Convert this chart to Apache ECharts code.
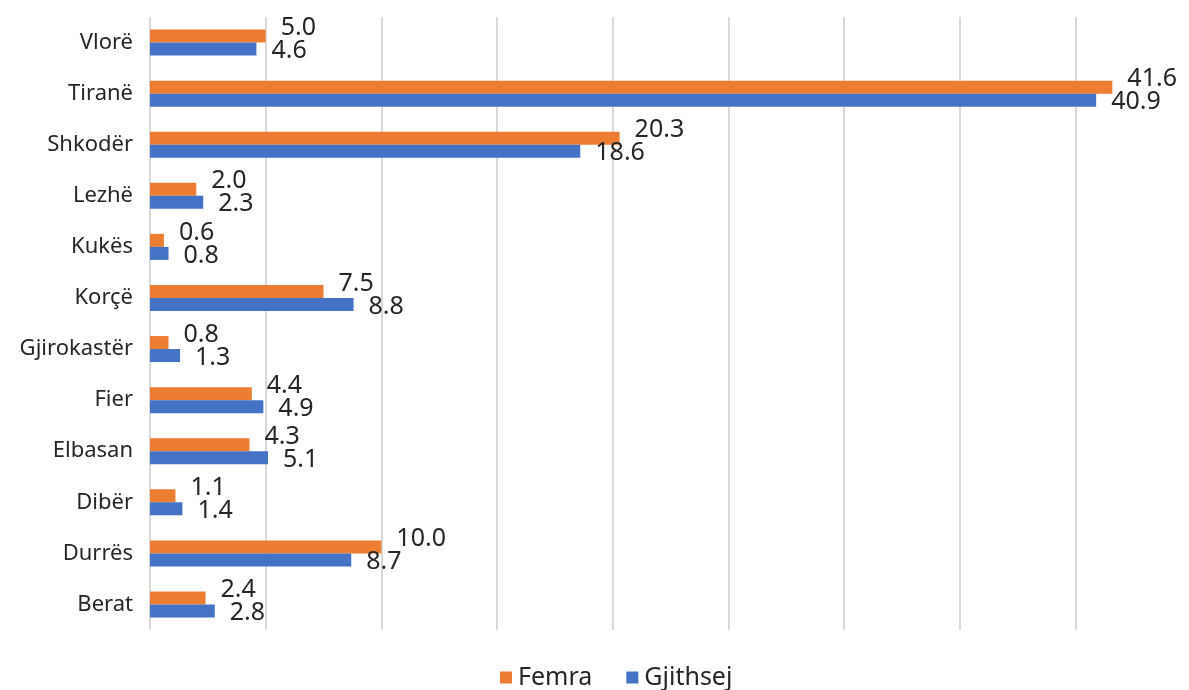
<!DOCTYPE html>
<html>
<head>
<meta charset="utf-8">
<script src="https://cdn.jsdelivr.net/npm/echarts@6/dist/echarts.min.js"></script>
<style>html,body{margin:0;padding:0;background:#fff;overflow:hidden;}#c{width:1200px;height:690px;}</style>
</head>
<body>
<div id="c"></div>
<script>
const categories = ['Berat','Durrës','Dibër','Elbasan','Fier','Gjirokastër','Korçë','Kukës','Lezhë','Shkodër','Tiranë','Vlorë'];
const femra = [2.4,10.0,1.1,4.3,4.4,0.8,7.5,0.6,2.0,20.3,41.6,5.0];
const gjithsej = [2.8,8.7,1.4,5.1,4.9,1.3,8.8,0.8,2.3,18.6,40.9,4.6];
const seriesNames = ['Femra','Gjithsej'];

const chart = echarts.init(document.getElementById('c'));
const font = 'Noto Sans';
const txt = '#262626';
chart.setOption({
  animation: false,
  textStyle: {fontFamily: font},
  grid: {left: 150, top: 17, bottom: 60, width: 1041, containLabel: false},
  legend: {
    data: seriesNames,
    left: 495, top: 660,
    itemWidth: 12, itemHeight: 12, itemGap: 34,
    icon: 'rect',
    textStyle: {fontFamily: font, fontSize: 25, color: txt, padding: [0,0,0,1]}
  },
  xAxis: {
    type: 'value', min: 0, max: 45, interval: 5,
    axisLabel: {show: false}, axisLine: {show: false}, axisTick: {show: false},
    splitLine: {show: true, lineStyle: {color: '#D9D9D9', width: 2}}
  },
  yAxis: {
    type: 'category', data: categories,
    axisLine: {show: false}, axisTick: {show: false},
    axisLabel: {fontFamily: font, fontSize: 22, color: txt, margin: 17}
  },
  series: [
    {
      name: 'Femra', type: 'bar', data: femra,
      itemStyle: {color: '#ED7D31'},
      barWidth: 13, barGap: '0%',
      label: {show: true, position: 'right', distance: 15, offset: [0, -8],
        formatter: p => p.value.toFixed(1), fontFamily: font, fontSize: 25, color: txt}
    },
    {
      name: 'Gjithsej', type: 'bar', data: gjithsej,
      itemStyle: {color: '#4472C4'},
      barWidth: 13, barGap: '0%',
      label: {show: true, position: 'right', distance: 15, offset: [0, 2],
        formatter: p => p.value.toFixed(1), fontFamily: font, fontSize: 25, color: txt}
    }
  ]
});
</script>
</body>
</html>
